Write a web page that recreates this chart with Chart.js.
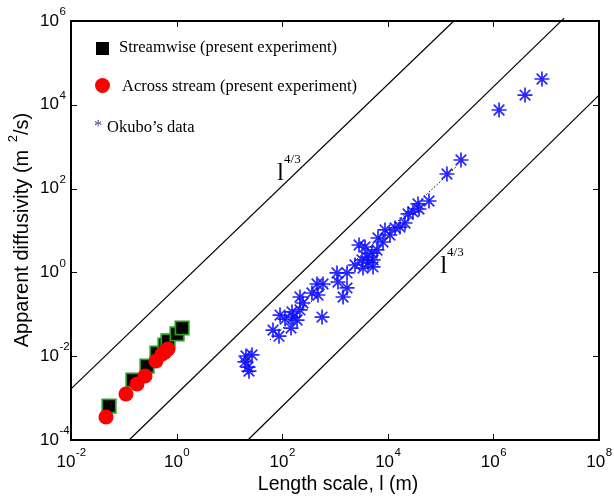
<!DOCTYPE html>
<html>
<head>
<meta charset="utf-8">
<script src="https://cdn.jsdelivr.net/npm/chart.js@4.4.1/dist/chart.umd.min.js"></script>
<style>
  html, body { margin: 0; padding: 0; background: #fff; }
</style>
</head>
<body>
<canvas id="chart" width="614" height="497"></canvas>
<script>
// Tick exponents (labels are 10^n)
const xTickExps = [-2, 0, 2, 4, 6, 8];
const yTickExps = [-4, -2, 0, 2, 4, 6];

// Streamwise (present experiment)
const streamX = [0.0525, 0.149, 0.275, 0.425, 0.603, 0.687, 1.02, 1.27];
const streamY = [0.000646, 0.0027, 0.00583, 0.0119, 0.0185, 0.0231, 0.0339, 0.0471];

// Across stream (present experiment)
const acrossX = [0.046, 0.110, 0.178, 0.252, 0.407, 0.529, 0.603, 0.687];
const acrossY = [0.000354, 0.00125, 0.00217, 0.00337, 0.00767, 0.0113, 0.0126, 0.0149];

// Okubo's data
const okuboX = [20.6, 26.8, 19.7, 22.5, 23.5, 67, 87, 91, 113, 147,
                160, 153, 191, 217, 248, 217, 366, 476, 456, 593,
                568, 1090, 1140, 1690, 1420, 1690, 2390, 2850, 3700, 3250,
                4040, 3390, 4220, 5020, 5250, 5250, 6240, 6520, 8110, 8850,
                11000, 13700, 21200, 17000, 24200, 30000, 37300, 39000, 60300, 132000,
                243000, 1.28e6, 3.97e6, 8.32e6];
const okuboY = [0.0101, 0.0107, 0.0073, 0.0055, 0.0044, 0.042, 0.030, 0.096, 0.077, 0.047,
                0.086, 0.114, 0.073, 0.127, 0.186, 0.259, 0.322, 0.289, 0.529, 0.529,
                0.086, 0.97, 0.59, 0.97, 0.259, 0.425, 1.50, 4.51, 4.04, 1.98,
                2.33, 1.27, 1.68, 2.90, 1.98, 1.35, 3.43, 6.62, 5.32, 10.3,
                7.8, 11.5, 15.1, 12.1, 24.8, 27.7, 43, 32.6, 50.6, 223,
                482, 7520, 17100, 41300];

// dotted fit through Okubo's data
const fitX = [58.7, 196000];
const fitY = [0.0244, 328];

// the three l^(4/3) reference lines
const refLineX = [[0.01, 178000], [0.126, 2.19e7], [22.4, 1e8]];
const refLineY = [[0.00166, 1e6], [1e-4, 1.17e6], [1e-4, 17000]];

// where the "l^4/3" labels sit (data coords)
const slopeLabelX = [80, 98000];
const slopeLabelY = [160, 0.97];

const toPoints = (xs, ys) => xs.map((x, i) => ({ x: x, y: ys[i] }));

const SANS = '"Liberation Sans", Arial, sans-serif';
const SERIF = '"Liberation Serif", "Times New Roman", serif';

const datasets = [
    {
        label: 'Across stream (present experiment)',
        data: toPoints(acrossX, acrossY),
        pointStyle: 'circle',
        pointRadius: 7.5,
        pointBackgroundColor: '#ff0000',
        pointBorderWidth: 0,
        showLine: false
    },
    {
        label: 'Streamwise (present experiment)',
        data: toPoints(streamX, streamY),
        pointStyle: 'rect',
        pointRadius: 9.5,
        pointBackgroundColor: '#000000',
        pointBorderColor: '#2a9a2a',
        pointBorderWidth: 1.8,
        showLine: false
    },
    {
        label: 'Okubo\u2019s data',
        data: toPoints(okuboX, okuboY),
        pointStyle: 'star',
        pointRadius: 7.5,
        pointBorderColor: 'rgba(15, 15, 255, 0.9)',
        pointBorderWidth: 1.7,
        showLine: false
    },
    {
        label: 'fit',
        data: toPoints(fitX, fitY),
        showLine: true,
        pointRadius: 0,
        borderColor: '#000',
        borderWidth: 1,
        borderDash: [1.5, 2]
    }
];

refLineX.forEach((xs, i) => {
    datasets.push({
        label: 'slope ' + i,
        data: toPoints(xs, refLineY[i]),
        showLine: true,
        pointRadius: 0,
        borderColor: '#000',
        borderWidth: 1.2,
        clip: false
    });
});

function drawPow(ctx, x, y, exp, align) {
    // "10" with a raised exponent; align 'left' or 'center'
    ctx.font = '17px ' + SANS;
    const baseW = ctx.measureText('10').width;
    ctx.font = '11.5px ' + SANS;
    const expTxt = String(exp);
    const expW = ctx.measureText(expTxt).width;
    let left = align === 'center' ? x - (baseW + expW) / 2 : x;
    ctx.textBaseline = 'middle';
    ctx.textAlign = 'left';
    ctx.fillStyle = '#000';
    ctx.font = '17px ' + SANS;
    ctx.fillText('10', left, y);
    ctx.font = '11.5px ' + SANS;
    ctx.fillText(expTxt, left + baseW + 0.5, y - 9);
}

const decorPlugin = {
    id: 'decor',
    afterDraw(chart) {
        const ctx = chart.ctx;
        const area = chart.chartArea;
        const xs = chart.scales.x;
        const ys = chart.scales.y;
        ctx.save();

        // frame
        ctx.strokeStyle = '#000';
        ctx.lineWidth = 2;
        ctx.strokeRect(area.left, area.top, area.right - area.left, area.bottom - area.top);

        // inward ticks on all four sides
        ctx.lineWidth = 1;
        ctx.beginPath();
        xTickExps.forEach(e => {
            const px = Math.round(xs.getPixelForValue(Math.pow(10, e))) + 0.5;
            ctx.moveTo(px, area.bottom); ctx.lineTo(px, area.bottom - 6);
            ctx.moveTo(px, area.top); ctx.lineTo(px, area.top + 6);
        });
        yTickExps.forEach(e => {
            const py = Math.round(ys.getPixelForValue(Math.pow(10, e))) + 0.5;
            ctx.moveTo(area.left, py); ctx.lineTo(area.left + 6, py);
            ctx.moveTo(area.right, py); ctx.lineTo(area.right - 6, py);
        });
        ctx.stroke();

        // tick labels
        xTickExps.forEach(e => {
            drawPow(ctx, xs.getPixelForValue(Math.pow(10, e)), area.bottom + 22, e, 'center');
        });
        yTickExps.forEach(e => {
            drawPow(ctx, 40, ys.getPixelForValue(Math.pow(10, e)), e, 'left');
        });

        // axis titles
        ctx.fillStyle = '#000';
        ctx.textBaseline = 'middle';
        ctx.textAlign = 'center';
        ctx.font = '19.5px ' + SANS;
        ctx.fillText('Length scale, l (m)', (area.left + area.right) / 2 + 3, 485);

        ctx.save();
        ctx.translate(22, 230);
        ctx.rotate(-Math.PI / 2);
        const partA = 'Apparent diffusivity (m ';
        const partB = '2';
        const partC = '/s)';
        ctx.font = '20px ' + SANS;
        const wA = ctx.measureText(partA).width + 2;
        const wC = ctx.measureText(partC).width;
        ctx.font = '13px ' + SANS;
        const wB = ctx.measureText(partB).width;
        let tx = -(wA + wB + wC) / 2;
        ctx.textAlign = 'left';
        ctx.font = '20px ' + SANS;
        ctx.fillText(partA, tx, 0);
        ctx.font = '13px ' + SANS;
        ctx.fillText(partB, tx + wA, -9);
        ctx.font = '20px ' + SANS;
        ctx.fillText(partC, tx + wA + wB, 0);
        ctx.restore();

        // l^(4/3) labels
        slopeLabelX.forEach((lx, i) => {
            const px = xs.getPixelForValue(lx);
            const py = ys.getPixelForValue(slopeLabelY[i]);
            ctx.textAlign = 'left';
            ctx.textBaseline = 'alphabetic';
            ctx.font = '25px ' + SERIF;
            ctx.fillText('l', px, py);
            const w = ctx.measureText('l').width;
            ctx.font = '13px ' + SERIF;
            ctx.fillText('4/3', px + w, py - 17);
        });

        // legend
        ctx.textAlign = 'left';
        ctx.textBaseline = 'middle';
        ctx.font = '16.5px ' + SERIF;
        ctx.fillStyle = '#000';
        ctx.fillRect(96, 42, 13, 13);
        ctx.fillText('Streamwise (present experiment)', 119, 48);
        ctx.fillStyle = '#ff0000';
        ctx.beginPath();
        ctx.arc(102.5, 85.5, 7.5, 0, Math.PI * 2);
        ctx.fill();
        ctx.fillStyle = '#000';
        ctx.fillText('Across stream (present experiment)', 122, 87);
        ctx.fillStyle = '#3d3d8f';
        ctx.fillText('*', 94, 127);
        ctx.fillStyle = '#000';
        ctx.fillText('Okubo\u2019s data', 107, 128);

        ctx.restore();
    }
};

new Chart(document.getElementById('chart'), {
    type: 'scatter',
    data: { datasets: datasets },
    options: {
        responsive: false,
        animation: false,
        devicePixelRatio: 1,
        layout: { padding: { left: 71, right: 15, top: 21, bottom: 57 } },
        scales: {
            x: { type: 'logarithmic', min: 0.01, max: 1e8, display: false },
            y: { type: 'logarithmic', min: 1e-4, max: 1e6, display: false }
        },
        plugins: {
            legend: { display: false },
            tooltip: { enabled: false }
        }
    },
    plugins: [decorPlugin]
});
</script>
</body>
</html>
